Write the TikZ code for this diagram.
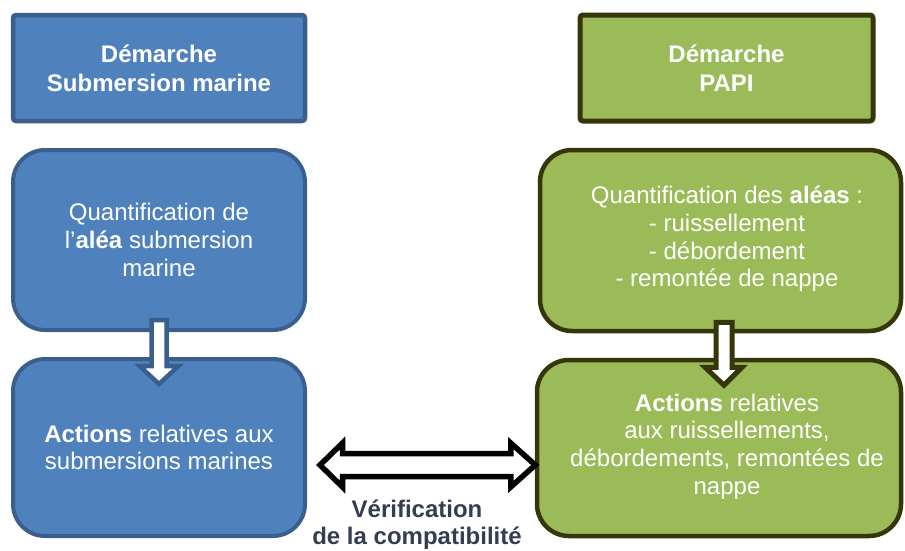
\documentclass[tikz,border=0pt]{standalone}
\usepackage{fontspec}
\setmainfont{Liberation Sans}
\usetikzlibrary{calc}
\definecolor{bfill}{HTML}{4F81BD}
\definecolor{bline}{HTML}{3A5F8C}
\definecolor{gfill}{HTML}{9BBB59}
\definecolor{gline}{HTML}{36360A}
\definecolor{lbl}{HTML}{333F50}
\begin{document}
\begin{tikzpicture}[x=1pt,y=-1pt,
  bluebox/.style={draw=bline, fill=bfill},
  greenbox/.style={draw=gline, fill=gfill},
  hdrbox/.style={line width=4.5pt, rounded corners=3pt, inner sep=0pt, text=white, align=center,
    font=\fontsize{24}{29}\selectfont\bfseries},
  stagebox/.style={line width=4pt, rounded corners=32pt, inner sep=0pt, text=white, align=center,
    font=\fontsize{24}{27.6}\selectfont},
  boxtext/.style={inner sep=0pt, text=white, align=center, font=\fontsize{24}{27.6}\selectfont},
  downarrow/.style={fill=white, line width=4.5pt, line join=miter},
  bothways/.style={draw=black, fill=white, line width=5.5pt, line join=miter},
  caption/.style={inner sep=0pt, text=lbl, align=center, font=\fontsize{24}{27}\selectfont\bfseries}]
\useasboundingbox (0,0) rectangle (905,550);

% left column
\node[bluebox, hdrbox, minimum width=292pt, minimum height=106pt] (h1) at (159,68)
  {Démarche\\Submersion marine};
\node[bluebox, stagebox, minimum width=292pt, minimum height=180pt] (q1) at (159,240)
  {Quantification de\\l’\textbf{aléa} submersion\\marine};
\node[bluebox, stagebox, minimum width=292pt, minimum height=177pt] (a1) at (159,447.5)
  {\textbf{Actions} relatives aux\\submersions marines};

% right column
\node[greenbox, hdrbox, line width=5pt, minimum width=293pt, minimum height=106pt] (h2) at (726.5,68)
  {Démarche\\PAPI};
\node[greenbox, stagebox, line width=4.5pt, minimum width=361pt, minimum height=181pt] (q2) at (720.5,240.5) {};
\node[boxtext] (q2t) at (727,239)
  {Quantification des \textbf{aléas} :\\- ruissellement\\- débordement\\- remontée de nappe};
\node[greenbox, stagebox, line width=4.5pt, minimum width=364pt, minimum height=176pt] (a2) at (719,448) {};
\node[boxtext] (a2t) at (727,446.5)
  {\textbf{Actions} relatives\\aux ruissellements,\\débordements, remontées de\\nappe};

% down arrows
\coordinate (b1) at ($(q1.south)+(0,-12)$);
\draw[downarrow, draw=bline] ($(b1)+(-7.5,0)$) -- ++(15,0) -- ++(0,46) -- ++(12,0)
  -- ++(-19.5,18) -- ++(-19.5,-18) -- ++(12,0) -- cycle;
\coordinate (b2) at ($(q2.south)+(3.5,-11)$);
\draw[downarrow, draw=gline, line width=5pt] ($(b2)+(-8,0)$) -- ++(16,0) -- ++(0,45) -- ++(10,0)
  -- ++(-18,18) -- ++(-19,-18) -- ++(11,0) -- cycle;

% double arrow between action boxes
\coordinate (dl) at ($(a1.east)+(13,17.5)$);
\coordinate (dr) at ($(a2.west)+(0.5,17)$);
\draw[bothways] (dl) -- ++(22.5,-22) -- ++(0,10.5) -- ($(dr)+(-24.5,-11.5)$) -- ++(0,-10.5)
  -- (dr) -- ++(-24.5,22) -- ++(0,-10.5) -- ($(dl)+(22.5,11.5)$) -- ++(0,10.5) -- cycle;

\node[caption] (cap) at (417,525) {Vérification\\de la compatibilité};
\end{tikzpicture}
\end{document}
